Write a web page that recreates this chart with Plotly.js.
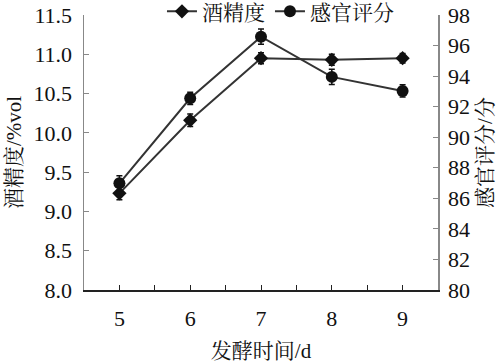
<!DOCTYPE html>
<html><head><meta charset="utf-8">
<script src="https://cdn.plot.ly/plotly-3.0.1.min.js"></script>
<style>html,body{margin:0;padding:0;background:#fff}</style>
</head><body>
<div id="chart" style="width:504px;height:363px"></div>
<script>
const days = [5, 6, 7, 8, 9];
const alcohol = [9.23, 10.16, 10.95, 10.93, 10.95];
const alcoholErr = [0.08, 0.08, 0.07, 0.07, 0.06];
const sensory = [86.98, 92.55, 96.58, 93.95, 93.03];
const sensoryErr = [0.5, 0.4, 0.5, 0.5, 0.4];
const xTickLabels = ['5', '6', '7', '8', '9'];

const FONT = '"Liberation Serif", "Noto Serif CJK SC", "Noto Sans CJK SC", serif';

const traces = [
  {
    x: days, y: alcohol, name: '酒精度', type: 'scatter', mode: 'lines+markers',
    line: {color: '#333', width: 2},
    marker: {symbol: 'diamond', size: 11, color: '#111'},
    error_y: {type: 'data', array: alcoholErr, visible: true, color: '#111', thickness: 1.5, width: 3},
    yaxis: 'y'
  },
  {
    x: days, y: sensory, name: '感官评分', type: 'scatter', mode: 'lines+markers',
    line: {color: '#333', width: 2},
    marker: {symbol: 'circle', size: 12, color: '#111'},
    error_y: {type: 'data', array: sensoryErr, visible: true, color: '#111', thickness: 1.5, width: 3},
    yaxis: 'y2'
  }
];

const layout = {
  width: 504, height: 363,
  margin: {l: 84, r: 66, t: 15, b: 73, autoexpand: false},
  paper_bgcolor: '#fff', plot_bgcolor: '#fff',
  font: {family: FONT, size: 21, color: '#111'},
  showlegend: true,
  legend: {orientation: 'h', x: 0.555, xanchor: 'center', y: 1.012, yanchor: 'middle',
           font: {size: 21}, bgcolor: 'rgba(0,0,0,0)', itemwidth: 30, tracegroupgap: 0},
  xaxis: {
    range: [4.5, 9.5], tickvals: days, ticktext: xTickLabels,
    ticks: 'inside', ticklen: 5, tickcolor: '#222',
    minor: {tickmode: 'linear', tick0: 4.5, dtick: 0.5, ticks: 'inside', ticklen: 5, tickcolor: '#222'},
    showline: true, linecolor: '#222', linewidth: 1.5,
    showgrid: false, zeroline: false,
    ticklabelstandoff: 8,
    title: {text: '发酵时间/d', font: {size: 21}, standoff: 14},
    tickfont: {size: 22}
  },
  yaxis: {
    range: [8, 11.5], dtick: 0.5, tick0: 8, tickformat: '.1f',
    ticks: 'inside', ticklen: 5, tickcolor: '#888',
    showline: true, linecolor: '#888', linewidth: 1.5,
    showgrid: false, zeroline: false,
    ticklabelstandoff: 6,
    title: {text: '酒精度/%vol', font: {size: 21}, standoff: 6},
    tickfont: {size: 22}
  },
  yaxis2: {
    range: [80, 98], dtick: 2, tick0: 80, overlaying: 'y', side: 'right',
    ticks: 'inside', ticklen: 5, tickcolor: '#888',
    showline: true, linecolor: '#888', linewidth: 1.5,
    showgrid: false, zeroline: false,
    ticklabelstandoff: 4,
    title: {text: '感官评分/分', font: {size: 21}, standoff: 8},
    tickfont: {size: 22}
  }
};

Plotly.newPlot('chart', traces, layout, {staticPlot: true, displayModeBar: false});
</script>
</body></html>
